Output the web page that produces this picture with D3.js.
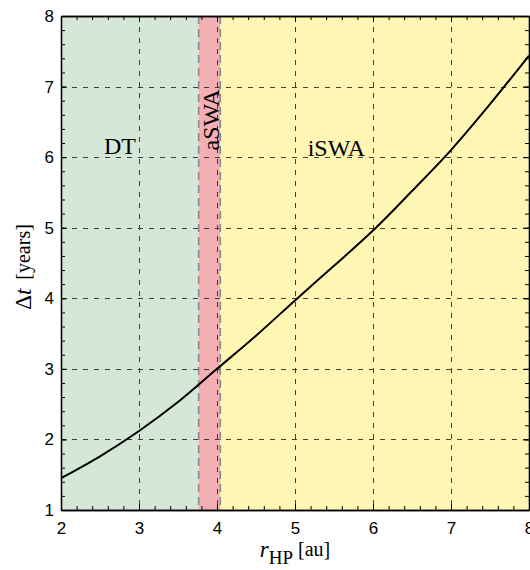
<!DOCTYPE html>
<html>
<head>
<meta charset="utf-8">
<script src="https://cdn.jsdelivr.net/npm/d3@7"></script>
<style>
  html, body { margin: 0; padding: 0; background: #fff; }
  svg { display: block; }
</style>
</head>
<body>
<svg id="chart" width="530" height="570"></svg>
<script>
// Heliopause distance (au) and travel time (years)
const rHP = [2, 2.5, 3, 3.5, 4, 4.5, 5, 5.5, 6, 6.5, 7, 7.5, 8];
const deltaT = [1.45, 1.76, 2.12, 2.53, 3.0, 3.47, 3.97, 4.46, 4.96, 5.52, 6.1, 6.75, 7.44];

// Regimes along r_HP
const regionNames = ["DT", "aSWA", "iSWA"];
const regionStart = [2, 3.765, 4.042];
const regionEnd = [3.765, 4.042, 8];
const regionColors = ["#d5e8d8", "#f4afb4", "#fff6b4"];

// Axis ticks
const xTicks = [2, 3, 4, 5, 6, 7, 8];
const yTicks = [1, 2, 3, 4, 5, 6, 7, 8];

const svg = d3.select("#chart");
const plotLeft = 61, plotRight = 529, plotTop = 16, plotBottom = 510;

const x = d3.scaleLinear().domain([2, 8]).range([plotLeft, plotRight]);
const y = d3.scaleLinear().domain([1, 8]).range([plotBottom, plotTop]);

// Background regimes
svg.append("g").selectAll("rect")
  .data(regionNames)
  .join("rect")
  .attr("x", (d, i) => x(regionStart[i]))
  .attr("width", (d, i) => x(regionEnd[i]) - x(regionStart[i]))
  .attr("y", plotTop)
  .attr("height", plotBottom - plotTop)
  .attr("fill", (d, i) => regionColors[i]);

// Dashed grid
const grid = svg.append("g")
  .attr("stroke", "#222")
  .attr("stroke-width", 1)
  .attr("stroke-dasharray", "5,6")
  .attr("opacity", 0.85);
grid.selectAll("line.gx")
  .data(xTicks.slice(1, -1))
  .join("line")
  .attr("x1", d => x(d) + 0.5).attr("x2", d => x(d) + 0.5)
  .attr("y1", plotTop).attr("y2", plotBottom);
grid.selectAll("line.gy")
  .data(yTicks.slice(1, -1))
  .join("line")
  .attr("y1", d => Math.round(y(d)) + 0.5).attr("y2", d => Math.round(y(d)) + 0.5)
  .attr("x1", plotLeft).attr("x2", plotRight);

// Regime boundaries
svg.append("g").selectAll("line")
  .data(regionStart.slice(1))
  .join("line")
  .attr("x1", d => x(d)).attr("x2", d => x(d))
  .attr("y1", plotTop).attr("y2", plotBottom)
  .attr("stroke", "#8a8a8a")
  .attr("stroke-width", 1.6)
  .attr("stroke-dasharray", "8,5");

// Travel-time curve
const line = d3.line()
  .x((d, i) => x(rHP[i]))
  .y(d => y(d))
  .curve(d3.curveCatmullRom.alpha(0.5));
svg.append("path")
  .datum(deltaT)
  .attr("d", line)
  .attr("fill", "none")
  .attr("stroke", "#000")
  .attr("stroke-width", 2);

// Regime labels
const labelFont = "'Liberation Serif', 'Times New Roman', serif";
svg.append("text")
  .attr("x", x(2.755)).attr("y", y(6.04))
  .attr("text-anchor", "middle")
  .attr("font-family", labelFont).attr("font-size", 24)
  .text(regionNames[0]);
svg.append("text")
  .attr("x", x(5.53)).attr("y", y(6.02))
  .attr("text-anchor", "middle")
  .attr("font-family", labelFont).attr("font-size", 24)
  .text(regionNames[2]);
svg.append("text")
  .attr("transform", `translate(${x(4.03)},${y(6.53)}) rotate(-90)`)
  .attr("text-anchor", "middle")
  .attr("font-family", labelFont).attr("font-size", 24)
  .text(regionNames[1]);

// Axes with inward ticks on all four sides
const tickFont = "'Liberation Sans', Arial, sans-serif";
const minorX = d3.range(2, 8.001, 0.2);
const minorY = d3.range(1, 8.001, 0.2);

function styleAxis(g) {
  g.selectAll("path.domain").attr("stroke", "#000").attr("stroke-width", 1.3);
  g.selectAll(".tick line").attr("stroke", "#000").attr("stroke-width", 1);
  g.selectAll("text").attr("font-family", tickFont).attr("font-size", 17).attr("fill", "#000");
}

svg.append("g").attr("transform", `translate(0,${plotBottom})`)
  .call(d3.axisBottom(x).tickValues(minorX).tickFormat("").tickSizeInner(-4).tickSizeOuter(0))
  .call(styleAxis);
svg.append("g").attr("transform", `translate(0,${plotBottom})`)
  .call(d3.axisBottom(x).tickValues(xTicks).tickFormat(d3.format("d")).tickSizeInner(-6).tickSizeOuter(0).tickPadding(12))
  .call(styleAxis);
svg.append("g").attr("transform", `translate(0,${plotTop})`)
  .call(d3.axisTop(x).tickValues(minorX).tickFormat("").tickSizeInner(-4).tickSizeOuter(0))
  .call(styleAxis);
svg.append("g").attr("transform", `translate(0,${plotTop})`)
  .call(d3.axisTop(x).tickValues(xTicks).tickFormat("").tickSizeInner(-6).tickSizeOuter(0))
  .call(styleAxis);
svg.append("g").attr("transform", `translate(${plotLeft},0)`)
  .call(d3.axisLeft(y).tickValues(minorY).tickFormat("").tickSizeInner(-4).tickSizeOuter(0))
  .call(styleAxis);
svg.append("g").attr("transform", `translate(${plotLeft},0)`)
  .call(d3.axisLeft(y).tickValues(yTicks).tickFormat(d3.format("d")).tickSizeInner(-6).tickSizeOuter(0).tickPadding(7))
  .call(styleAxis);
svg.append("g").attr("transform", `translate(${plotRight},0)`)
  .call(d3.axisRight(y).tickValues(minorY).tickFormat("").tickSizeInner(-4).tickSizeOuter(0))
  .call(styleAxis);
svg.append("g").attr("transform", `translate(${plotRight},0)`)
  .call(d3.axisRight(y).tickValues(yTicks).tickFormat("").tickSizeInner(-6).tickSizeOuter(0))
  .call(styleAxis);

// Axis titles
const xTitle = svg.append("text")
  .attr("x", (plotLeft + plotRight) / 2).attr("y", 557)
  .attr("text-anchor", "middle")
  .attr("font-family", labelFont).attr("fill", "#000");
xTitle.append("tspan").attr("font-style", "italic").attr("font-size", 23).text("r");
xTitle.append("tspan").attr("font-size", 19).attr("dy", 7).text("HP");
xTitle.append("tspan").attr("font-size", 20).attr("dy", -8).attr("dx", 5).text("[au]");

const yTitle = svg.append("text")
  .attr("transform", `translate(31,${(plotTop + plotBottom) / 2 + 4}) rotate(-90)`)
  .attr("text-anchor", "middle")
  .attr("font-family", labelFont).attr("fill", "#000");
yTitle.append("tspan").attr("font-size", 23).text("Δ");
yTitle.append("tspan").attr("font-size", 23).attr("font-style", "italic").text("t");
yTitle.append("tspan").attr("font-size", 20).attr("dx", 9).attr("dy", -1).text("[years]");
</script>
</body>
</html>
